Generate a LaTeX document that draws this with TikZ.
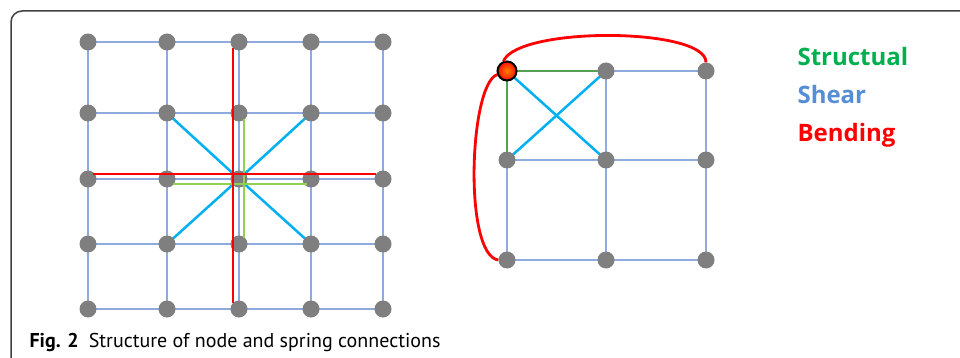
\documentclass[tikz,border=0pt]{standalone}
\usepackage{fontspec}
\setsansfont{Open Sans}
\newfontfamily\capfont{PT Sans}
\usetikzlibrary{calc,backgrounds}
\definecolor{dotgray}{RGB}{127,127,127}
\definecolor{gridblue}{RGB}{143,170,220}
\definecolor{shearblue}{RGB}{0,176,240}
\definecolor{bendred}{RGB}{255,0,0}
\definecolor{structlight}{RGB}{146,208,80}
\definecolor{structdark}{RGB}{84,160,84}
\definecolor{legendgreen}{RGB}{0,176,80}
\definecolor{legendblue}{RGB}{85,142,213}
\tikzset{
  mass/.style={circle, fill=dotgray, inner sep=0pt, minimum size=17pt},
  seedmass/.style={circle, draw=black, line width=2pt, inner sep=0pt,
    minimum size=19pt, inner color=orange, outer color=red!90!orange},
  spring/.style={gridblue, line width=2pt},
  shearspring/.style={shearblue, line width=2.5pt},
  bendspring/.style={bendred, line width=2.8pt},
  legend/.style={anchor=base west, font=\sffamily\bfseries\fontsize{24}{24}\selectfont}
}
\begin{document}
\begin{tikzpicture}[x=1pt, y=-1pt]
        \useasboundingbox (0,0) rectangle (960,358);
        \clip (0,0) rectangle (960,358);
        \draw[line width=1.5pt, black!75, rounded corners=11pt] (11,11) rectangle (980,380);
        % left mesh
        \foreach \c/\x in {0/88,1/167,2/239,3/311,4/383} {
          \foreach \r/\y in {0/42,1/113,2/179,3/244,4/309} {
            \node[mass] (p\c\r) at (\x,\y) {};
          }
        }
        \begin{scope}[on background layer]
          \foreach \c in {0,...,4} {
            \foreach \r [count=\s] in {0,...,3} {
              \draw[spring] (p\c\r.center) -- (p\c\s.center);
              \draw[spring] (p\r\c.center) -- (p\s\c.center);
            }
          }
          \foreach \n in {11,31,13,33}
            \draw[shearspring] (p22.center) -- (p\n.center);
        \end{scope}
        \draw[structlight, line width=2.8pt] ($(p21)+(5,6)$) -- ($(p23)+(5,-6)$);
        \draw[structlight, line width=2.8pt] ($(p12)+(6,5)$) -- ($(p32)+(-4,5)$);
        \draw[bendspring] ($(p20)+(-6,6)$) -- ($(p24)+(-6,-6)$);
        \draw[bendspring] ($(p02)+(5,-5)$) -- ($(p42)+(-7,-5)$);
        % right mesh
        \foreach \c/\x in {0/507,1/606,2/706} {
          \foreach \r/\y in {0/71,1/160,2/260} {
            \node[mass] (q\c\r) at (\x,\y) {};
          }
        }
        \node[seedmass] (seed) at (q00) {};
        \begin{scope}[on background layer]
          \foreach \c in {0,1,2} {
            \foreach \r [count=\s] in {0,1} {
              \draw[spring] (q\c\r.center) -- (q\c\s.center);
              \draw[spring] (q\r\c.center) -- (q\s\c.center);
            }
          }
          \draw[structdark, line width=2.5pt] (seed.center) -- (q10.center);
          \draw[structdark, line width=2.5pt] (seed.center) -- (q01.center);
          \draw[shearspring] (seed.center) -- (q11.center);
          \draw[shearspring] (q10.center) -- (q01.center);
        \end{scope}
        \draw[bendspring] (seed.110) .. controls +(15,-35) and +(0,-35) .. (q20.north);
        \draw[bendspring] (seed.200) .. controls +(-28,10) and +(-35,-5) .. (q02.west);
        % legend
        \node[legend, text=legendgreen] (lstruct) at (794,66) {Structual};
        \node[legend, text=legendblue] (lshear) at (794,104) {Shear};
        \node[legend, text=bendred] (lbend) at (794,142) {Bending};
        \node[anchor=base west, font=\capfont\fontsize{20}{20}\selectfont] (caption)
          at (26,347) {\textbf{Fig. 2}\enspace Structure of node and spring connections};
\end{tikzpicture}
\end{document}
